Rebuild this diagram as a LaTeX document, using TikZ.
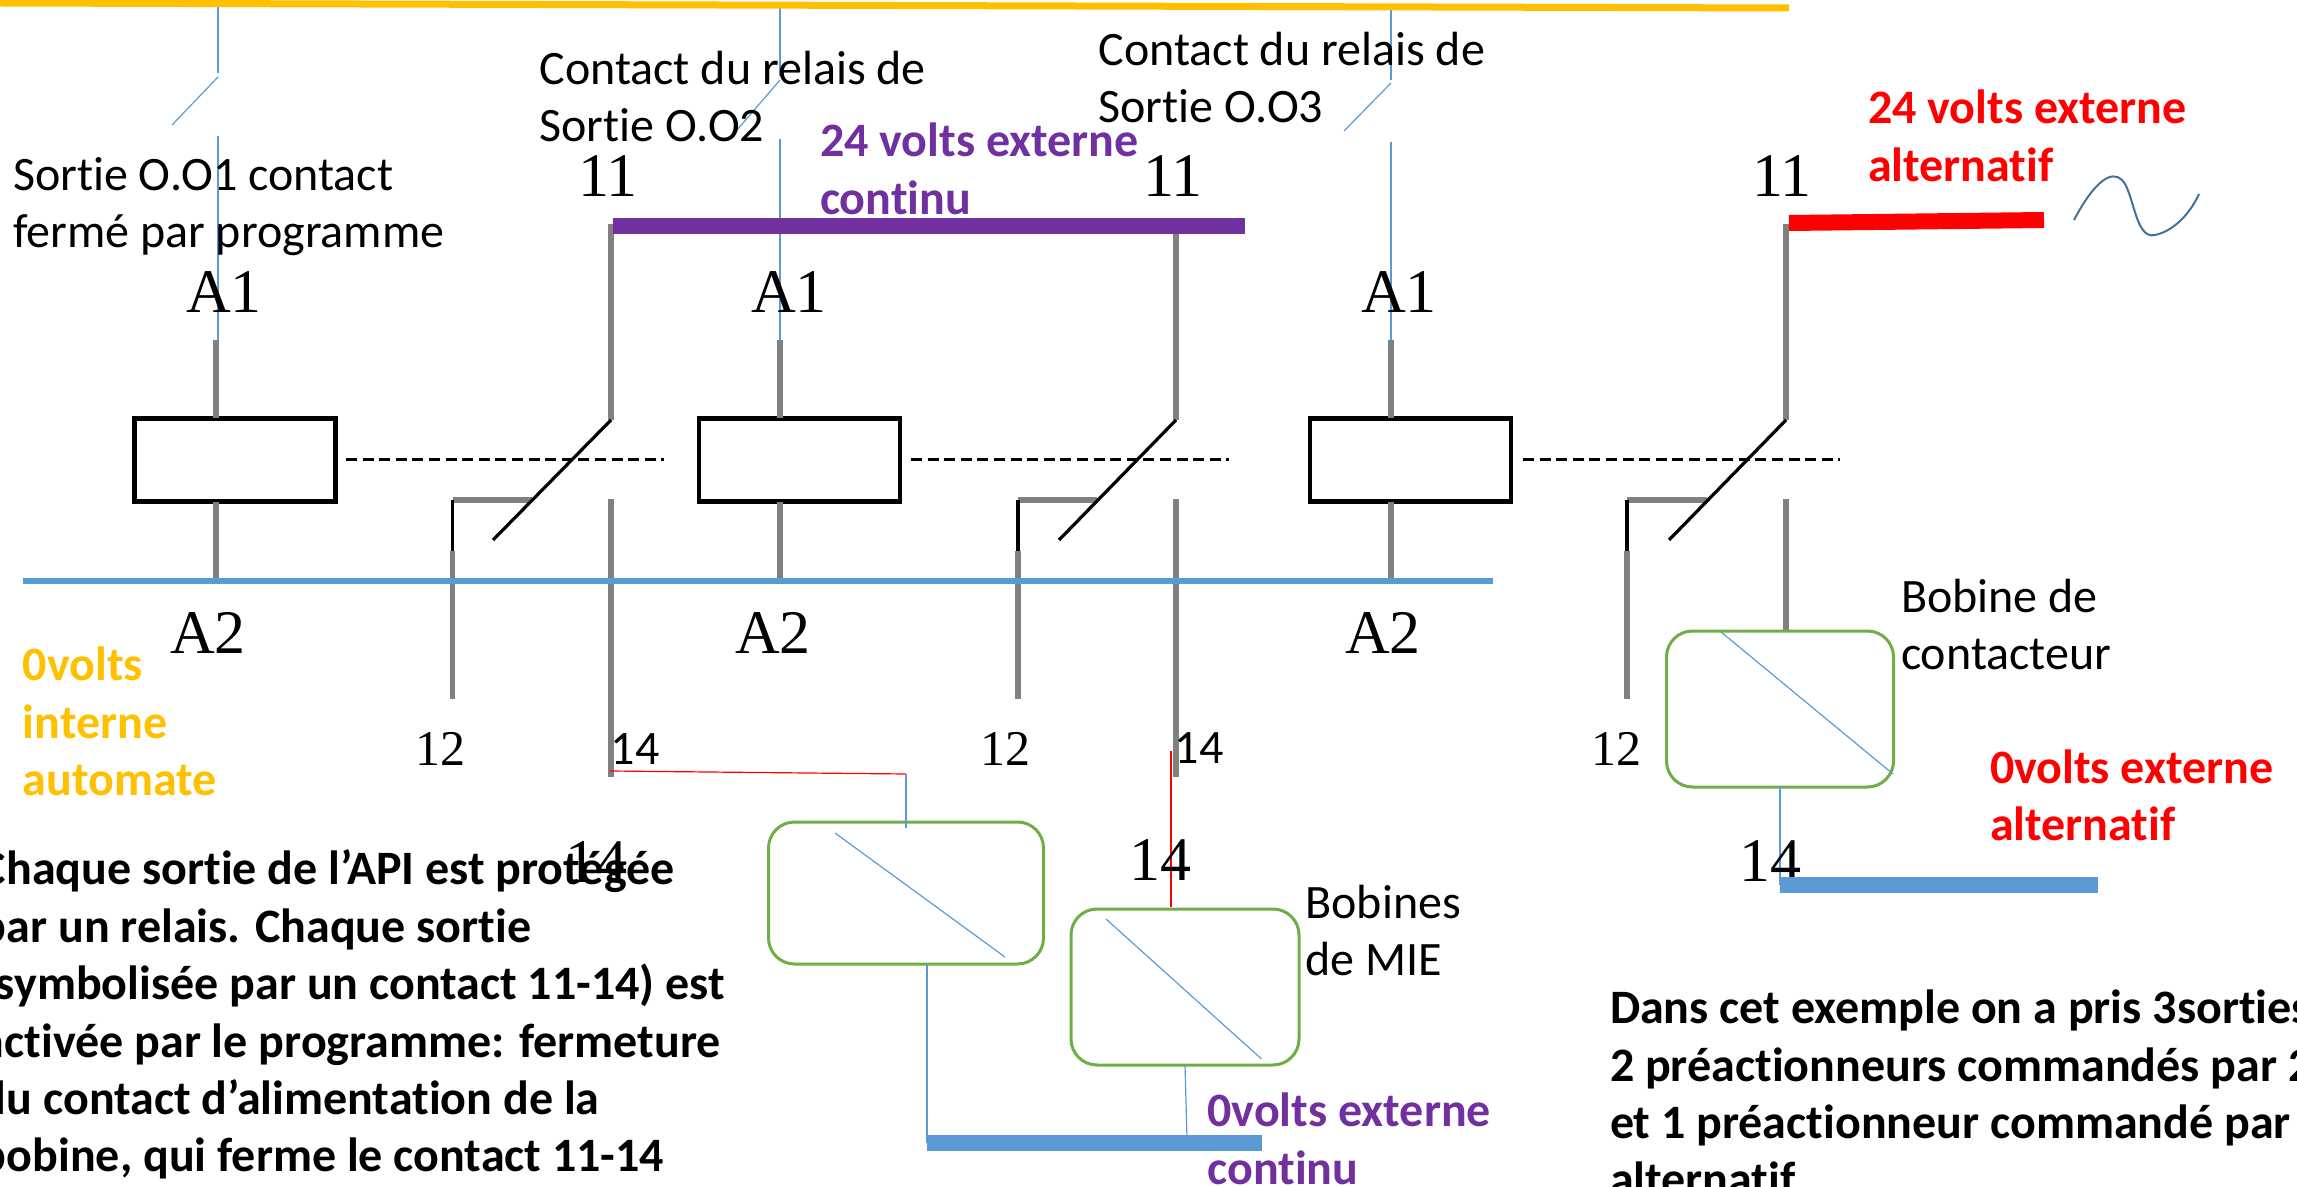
\documentclass[tikz,border=0pt]{standalone}
\usepackage{fontspec}
\setmainfont[Ligatures=NoCommon]{Carlito}
\newfontfamily\serifimg{Liberation Serif}
\definecolor{busyellow}{HTML}{FFC000}
\definecolor{buspurple}{HTML}{7030A0}
\definecolor{busblue}{HTML}{5B9BD5}
\definecolor{coilgreen}{HTML}{70AD47}
\definecolor{wiregray}{HTML}{808080}
\definecolor{sinecol}{HTML}{41719C}
\tikzset{
  x=0.5pt,y=-0.5pt,
  wire/.style={draw=wiregray,line width=2.6pt},
  shelf/.style={draw=wiregray,line width=3pt},
  thinblue/.style={draw=busblue,line width=0.6pt},
  thinred/.style={draw=red,line width=0.6pt},
  black wire/.style={draw=black,line width=1.6pt},
  bar/.style={line width=8pt},
  relay/.style={draw=black,line width=2.2pt,fill=white,inner sep=0pt,outer sep=0pt,minimum width=100.5pt,minimum height=41.5pt},
  coil/.style={draw=coilgreen,line width=1.5pt,rounded corners=13pt,inner sep=0pt,outer sep=0pt},
  mech/.style={draw=black,line width=1.5pt,dash pattern=on 5.5pt off 2.8pt},
  txt/.style={anchor=north west,inner sep=0pt,outer sep=0pt,align=left,
    font=\fontsize{24}{28.7}\selectfont,execute at begin node={\rule{0pt}{20pt}}},
  btxt/.style={txt,font=\fontsize{24}{28.7}\selectfont\bfseries},
  big/.style={inner sep=0pt,font=\serifimg\fontsize{31}{31}\selectfont},
  small/.style={inner sep=0pt,font=\serifimg\fontsize{25}{25}\selectfont},
  cal/.style={inner sep=0pt,font=\fontsize{24}{28}\selectfont},
}
\begin{document}
\begin{tikzpicture}
\useasboundingbox (0,0) rectangle (2297,1187);
\clip (0,0) rectangle (2297,1187);

% thin blue PLC output contacts
\coordinate (o1t) at (218,0);   \coordinate (o1m) at (218,73);
\coordinate (o1a) at (218,77);  \coordinate (o1b) at (172,125);
\coordinate (o1c) at (218,136); \coordinate (o1d) at (218,367);
\coordinate (o2t) at (780,3);   \coordinate (o2m) at (780,76);
\coordinate (o2a) at (780,80);  \coordinate (o2b) at (737,130);
\coordinate (o2c) at (780,139); \coordinate (o2d) at (780,369);
\coordinate (o3t) at (1391,6);  \coordinate (o3m) at (1391,80);
\coordinate (o3a) at (1391,83); \coordinate (o3b) at (1344,131);
\coordinate (o3c) at (1391,142);\coordinate (o3d) at (1391,373);
\foreach \i in {1,2,3}{
  \draw[thinblue] (o\i t) -- (o\i m);
  \draw[thinblue] (o\i a) -- (o\i b);
  \draw[thinblue] (o\i c) -- (o\i d);
}

% yellow bus
\coordinate (yl) at (0,3); \coordinate (yr) at (1789,8);
\draw[busyellow,line width=3.5pt] (yl) -- (yr);

% relay coils
\node[relay] (r1) at (235,460) {};
\node[relay] (r2) at (799.5,460) {};
\node[relay] (r3) at (1410.5,460) {};

% mechanical links
\coordinate (m1a) at (346,460);  \coordinate (m1b) at (664,460);
\coordinate (m2a) at (911,460);  \coordinate (m2b) at (1229,460);
\coordinate (m3a) at (1523,460); \coordinate (m3b) at (1840,460);
\foreach \i in {1,2,3}{\draw[mech] (m\i a) -- (m\i b);}

% coil wires
\coordinate (a1) at (216,340); \coordinate (a2) at (780,340); \coordinate (a3) at (1391,340);
\coordinate (b1) at (216,581); \coordinate (b2) at (780,581); \coordinate (b3) at (1391,581);
\foreach \i in {1,2,3}{
  \draw[wire] (a\i) -- (a\i |- r\i.north);
  \draw[wire] (b\i |- r\i.south) -- (b\i);
}

% contacts: common terminal, blade, NC and NO terminals
\coordinate (c1t) at (611,224);  \coordinate (c1m) at (611,420);
\coordinate (c1e) at (493,540);  \coordinate (n1a) at (452.5,499.5);
\coordinate (n1b) at (532,499.5);\coordinate (n1c) at (452.5,551);
\coordinate (n1d) at (452.5,699);\coordinate (s1a) at (611,499);
\coordinate (s1b) at (611,777);
\coordinate (c2t) at (1176,224); \coordinate (c2m) at (1176,420);
\coordinate (c2e) at (1059,540); \coordinate (n2a) at (1018,499.5);
\coordinate (n2b) at (1097,499.5);\coordinate (n2c) at (1018,551);
\coordinate (n2d) at (1018,699); \coordinate (s2a) at (1176,499);
\coordinate (s2b) at (1176,777);
\coordinate (c3t) at (1786,224); \coordinate (c3m) at (1786,420);
\coordinate (c3e) at (1669,540); \coordinate (n3a) at (1627,499.5);
\coordinate (n3b) at (1707,499.5);\coordinate (n3c) at (1627,551);
\coordinate (n3d) at (1627,699); \coordinate (s3a) at (1786,499);
\coordinate (s3b) at (1786,631);
\foreach \i in {1,2,3}{
  \draw[wire] (c\i t) -- (c\i m);
  \draw[shelf] (n\i a) -- (n\i b);
  \draw[wire] (n\i c) -- (n\i d);
  \draw[wire] (s\i a) -- (s\i b);
  \draw[black wire] (n\i a) -- (n\i c);
  \draw[black wire] (c\i m) -- (c\i e);
}

% 0 V internal bus
\coordinate (bl) at (23,581); \coordinate (br) at (1493,581);
\draw[busblue,line width=3pt] (bl) -- (br);

% external supply bars
\coordinate (pl) at (613,226); \coordinate (pr) at (1245,226);
\draw[buspurple,bar] (pl) -- (pr);
\coordinate (rl) at (1789,223); \coordinate (rr) at (2044,220);
\draw[red,bar] (rl) -- (rr);

% AC symbol
\coordinate (s0) at (2074,220); \coordinate (s3) at (2199,194);
\draw[sinecol,line width=1pt] (s0) .. controls (2095,180) and (2112,170) .. (2122,180)
  .. controls (2134,192) and (2135,240) .. (2155,235)
  .. controls (2170,232) and (2188,218) .. (s3);

% power coils
\node[coil,minimum width=137.5pt,minimum height=71pt] (k1) at (906,893) {};
\node[coil,minimum width=114pt,minimum height=78pt] (k2) at (1185,987) {};
\node[coil,minimum width=113.5pt,minimum height=78pt] (k3) at (1780,709) {};
\coordinate (d1a) at (835,833);  \coordinate (d1b) at (1005,957);
\coordinate (d2a) at (1106,919); \coordinate (d2b) at (1261.5,1059);
\coordinate (d3a) at (1721,632); \coordinate (d3b) at (1893,774);
\foreach \i in {1,2,3}{\draw[thinblue] (d\i a) -- (d\i b);}

% coil wiring
\coordinate (w1) at (610,771); \coordinate (w2) at (906,774); \coordinate (w3) at (906,828);
\draw[thinred] (w1) -- (w2);
\draw[thinblue] (w2) -- (w3);
\coordinate (w4) at (1171,751); \coordinate (w5) at (1171,907);
\draw[thinred] (w4) -- (w5);

% 0 V external bars
\coordinate (e1l) at (927,1143); \coordinate (e1r) at (1262,1143);
\coordinate (e3l) at (1780,884.5); \coordinate (e3r) at (2098,884.5);
\coordinate (e2t) at (1185,1065); \coordinate (e2b) at (1187,1138);
\draw[thinblue] (e1l |- k1.south) -- (e1l);
\draw[thinblue] (e2t) -- (e2b);
\draw[thinblue] (k3.south) -- (e3l);

% terminal marks from the relay picture
\node[big] (ta1) at (224,292) {A1};
\node[big] (ta2) at (789,292) {A1};
\node[big] (ta3) at (1399,292) {A1};
\node[big] (tb1) at (208,633) {A2};
\node[big] (tb2) at (773,633) {A2};
\node[big] (tb3) at (1383,633) {A2};
\node[big] (t11a) at (608,176) {11};
\node[big] (t11b) at (1173,176) {11};
\node[big] (t11c) at (1782,176) {11};
\node[small] (t12a) at (440,749) {12};
\node[small] (t12b) at (1005,749) {12};
\node[small] (t12c) at (1616,749) {12};
\node[big] (t14a) at (596,862) {14};
\node[big] (t14b) at (1160,860) {14};
\node[big] (t14c) at (1770,861) {14};
\node[cal] (t14d) at (635,749) {14};
\node[cal] (t14e) at (1199,748) {14};

\draw[busblue,bar] (e1l) -- (e1r);
\draw[busblue,bar] (e3l) -- (e3r);

% captions
\node[txt] (l1) at (13,157) {Sortie O.O1 contact\\fermé par programme};
\node[txt] (l2) at (539.5,51) {Contact du relais de\\Sortie O.O2};
\node[txt] (l3) at (1098.6,32) {Contact du relais de\\Sortie O.O3};
\node[btxt,text=buspurple] (l4) at (820,123) {24 volts externe\\continu};
\node[btxt,text=red] (l5) at (1868,90) {24 volts externe\\alternatif};
\node[btxt,text=busyellow] (l6) at (23,647) {0volts\\interne\\automate};
\node[btxt] (l7) at (-19,850) {Chaque sortie de l’API est protégée\\par un relais. Chaque sortie\\(symbolisée par un contact 11-14) est\\activée par le programme: fermeture\\du contact d’alimentation de la\\bobine, qui ferme le contact 11-14};
\node[txt] (l8) at (1901,579) {Bobine de\\contacteur};
\node[txt] (l9) at (1305.5,885) {Bobines\\de MIE};
\node[btxt,text=red] (l10) at (1990,749.5) {0volts externe\\alternatif};
\node[btxt,text=buspurple] (l11) at (1207.5,1093) {0volts externe\\continu};
\node[btxt] (l12) at (1610,990) {Dans cet exemple on a pris 3sorties\\2 préactionneurs commandés par 2\\et 1 préactionneur commandé par\\alternatif};
\end{tikzpicture}
\end{document}
